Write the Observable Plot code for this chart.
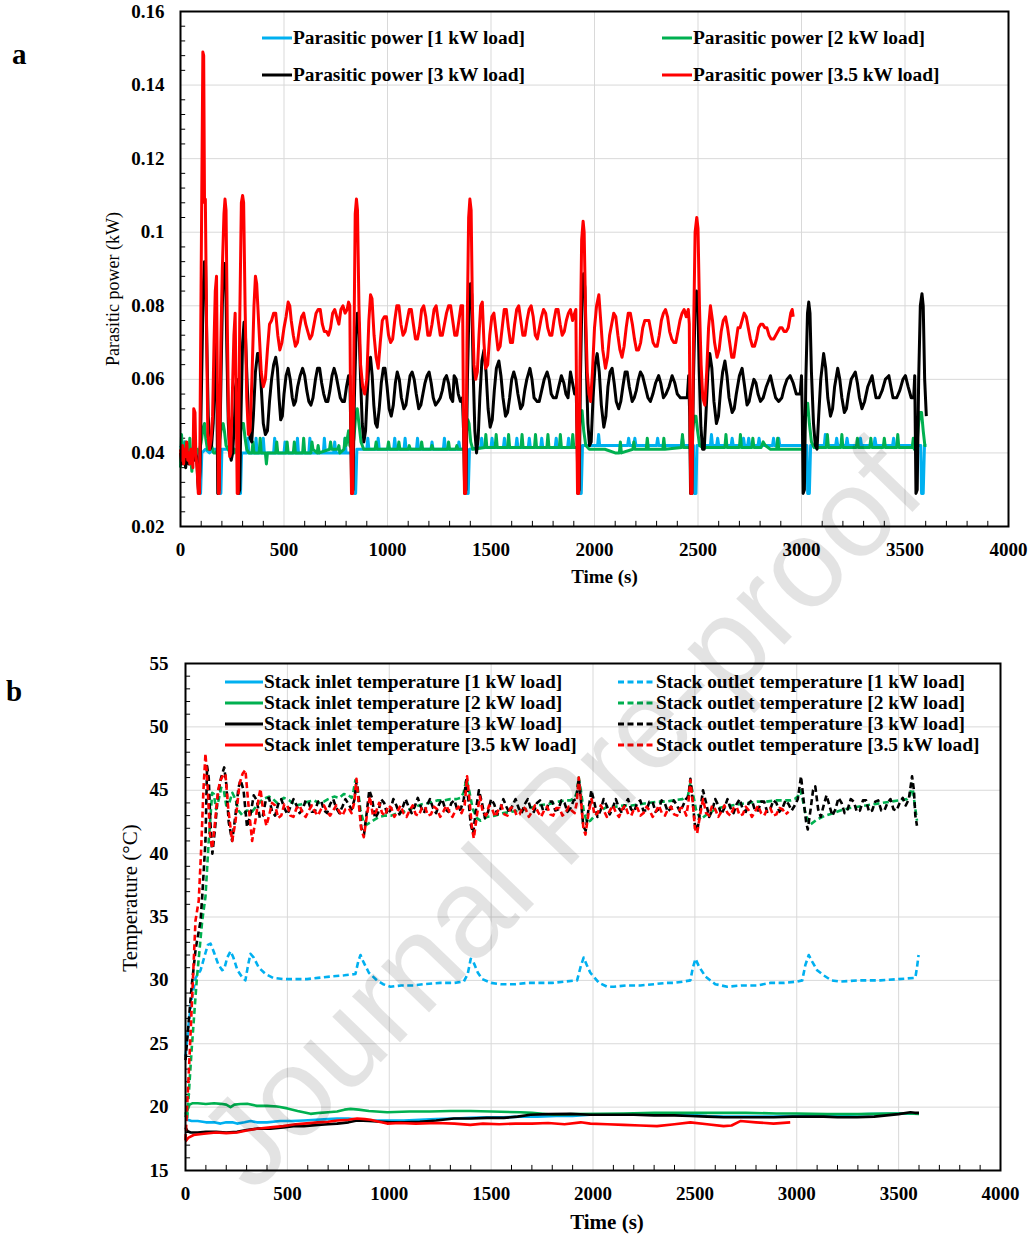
<!DOCTYPE html>
<html><head><meta charset="utf-8">
<script src="https://cdn.jsdelivr.net/npm/d3@7"></script>
<script src="https://cdn.jsdelivr.net/npm/@observablehq/plot@0.6"></script>
<style>
html,body{margin:0;padding:0;background:#fff;}
#root{position:relative;width:1029px;height:1236px;overflow:hidden;font-family:'Liberation Serif','Times New Roman',serif;}
.chart{position:absolute;left:0;}
.lab{position:absolute;font-size:29px;font-weight:bold;line-height:1;}
.leg{position:absolute;display:flex;align-items:center;height:20px;font-size:19.4px;font-weight:bold;white-space:nowrap;line-height:1;}
.leg svg{display:block;margin-right:1px;}
.wm{position:absolute;left:560px;top:815px;transform:translate(-50%,-50%) rotate(-46deg);font-family:'Liberation Sans',Arial,sans-serif;font-size:126px;color:rgba(0,0,0,0.11);white-space:nowrap;pointer-events:none;line-height:1;}
</style></head><body><div id="root"></div><script>
// ---------- axis ticks ----------
const timeTicks = [0, 500, 1000, 1500, 2000, 2500, 3000, 3500, 4000];
const timeMinor = [100,200,300,400,600,700,800,900,1100,1200,1300,1400,1600,1700,1800,1900,2100,2200,2300,2400,2600,2700,2800,2900,3100,3200,3300,3400,3600,3700,3800,3900];
const powerTicks = [0.02, 0.04, 0.06, 0.08, 0.1, 0.12, 0.14, 0.16];
const powerMinor = [0.024,0.028,0.032,0.036,0.044,0.048,0.052,0.056,0.064,0.068,0.072,0.076,0.084,0.088,0.092,0.096,0.104,0.108,0.112,0.116,0.124,0.128,0.132,0.136,0.144,0.148,0.152,0.156];
const tempTicks = [15, 20, 25, 30, 35, 40, 45, 50, 55];
const tempMinor = [16,17,18,19,21,22,23,24,26,27,28,29,31,32,33,34,36,37,38,39,41,42,43,44,46,47,48,49,51,52,53,54];

// ---------- labels ----------
const powerNames = ["Parasitic power [1 kW load]", "Parasitic power [2 kW load]", "Parasitic power [3 kW load]", "Parasitic power [3.5 kW load]"];
const inletNames = ["Stack inlet temperature [1 kW load]", "Stack inlet temperature [2 kW load]", "Stack inlet temperature [3 kW load]", "Stack inlet temperature [3.5 kW load]"];
const outletNames = ["Stack outlet temperature [1 kW load]", "Stack outlet temperature [2 kW load]", "Stack outlet temperature [3 kW load]", "Stack outlet temperature [3.5 kW load]"];
const colors = ["#00b0f0", "#00b050", "#000000", "#ff0000"];
const xTitle = "Time (s)";
const yTitleA = "Parasitic power (kW)";
const yTitleB = "Temperature (°C)";

// ---------- panel a: parasitic power [t (s), kW] ----------
const power1 = [[0,0.042],[10,0.041],[20,0.043],[30,0.040],[40,0.042],[50,0.041],[60,0.040],[70,0.041],[80,0.040],[88,0.040],[92,0.029],[97,0.029],[103,0.040],[120,0.041],[140,0.040],[160,0.041],[180,0.041],[186,0.040],[190,0.029],[195,0.029],[200,0.041],[230,0.041],[260,0.041],[280,0.040],[284,0.029],[290,0.029],[295,0.040],[320,0.040],[325,0.044],[330,0.040],[360,0.040],[365,0.044],[370,0.040],[395,0.040],[400,0.044],[405,0.040],[450,0.040],[455,0.044],[460,0.040],[500,0.040],[505,0.043],[510,0.040],[560,0.040],[565,0.044],[570,0.040],[620,0.040],[625,0.044],[630,0.040],[690,0.040],[695,0.044],[700,0.040],[740,0.040],[745,0.043],[750,0.040],[790,0.040],[795,0.044],[800,0.040],[836,0.040],[840,0.029],[846,0.029],[852,0.041],[900,0.041],[905,0.044],[910,0.041],[950,0.041],[955,0.044],[960,0.041],[1030,0.041],[1035,0.044],[1040,0.041],[1080,0.041],[1085,0.044],[1090,0.041],[1140,0.041],[1145,0.044],[1150,0.041],[1210,0.041],[1215,0.043],[1220,0.041],[1270,0.041],[1275,0.044],[1280,0.041],[1340,0.041],[1345,0.043],[1350,0.041],[1380,0.041],[1384,0.029],[1390,0.029],[1396,0.041],[1450,0.0415],[1455,0.044],[1460,0.0415],[1500,0.0415],[1505,0.044],[1510,0.0415],[1560,0.0415],[1565,0.044],[1570,0.0415],[1620,0.0415],[1625,0.044],[1630,0.0415],[1680,0.0415],[1685,0.044],[1690,0.0415],[1740,0.0415],[1745,0.044],[1750,0.0415],[1810,0.0415],[1815,0.044],[1820,0.0415],[1870,0.0415],[1875,0.044],[1880,0.0415],[1926,0.0415],[1930,0.029],[1936,0.029],[1942,0.042],[2015,0.042],[2020,0.045],[2025,0.042],[2160,0.042],[2165,0.044],[2170,0.042],[2190,0.042],[2195,0.044],[2200,0.042],[2300,0.042],[2305,0.044],[2310,0.042],[2420,0.042],[2425,0.044],[2430,0.042],[2478,0.042],[2482,0.029],[2490,0.029],[2495,0.042],[2560,0.042],[2565,0.045],[2570,0.042],[2590,0.042],[2595,0.044],[2600,0.042],[2660,0.042],[2665,0.044],[2670,0.042],[2715,0.042],[2720,0.044],[2725,0.042],[2740,0.042],[2745,0.044],[2750,0.042],[2790,0.042],[2795,0.044],[2800,0.042],[2860,0.042],[2865,0.044],[2870,0.042],[2885,0.042],[2890,0.044],[2895,0.042],[3026,0.042],[3030,0.029],[3038,0.029],[3044,0.042],[3110,0.042],[3115,0.045],[3120,0.042],[3165,0.042],[3170,0.044],[3175,0.042],[3215,0.042],[3220,0.044],[3225,0.042],[3280,0.042],[3285,0.044],[3290,0.042],[3350,0.042],[3355,0.044],[3360,0.042],[3440,0.042],[3445,0.044],[3450,0.042],[3576,0.042],[3580,0.029],[3588,0.029],[3594,0.042],[3603,0.042]];
const power2 = [[0,0.036],[5,0.045],[10,0.039],[15,0.041],[20,0.037],[25,0.043],[30,0.040],[35,0.042],[40,0.039],[45,0.044],[50,0.038],[55,0.035],[60,0.041],[70,0.039],[80,0.041],[90,0.040],[100,0.043],[110,0.047],[116,0.048],[122,0.044],[130,0.041],[140,0.041],[150,0.042],[160,0.040],[170,0.040],[180,0.041],[190,0.044],[198,0.047],[206,0.048],[212,0.046],[220,0.042],[230,0.041],[240,0.040],[250,0.042],[260,0.040],[270,0.041],[280,0.040],[288,0.045],[296,0.048],[304,0.048],[312,0.044],[320,0.041],[330,0.040],[345,0.040],[350,0.043],[355,0.040],[380,0.040],[385,0.044],[390,0.040],[410,0.040],[415,0.037],[420,0.040],[460,0.040],[465,0.043],[470,0.040],[510,0.040],[515,0.043],[520,0.040],[545,0.040],[550,0.043],[555,0.040],[590,0.040],[595,0.044],[600,0.040],[630,0.040],[635,0.043],[640,0.041],[660,0.040],[665,0.042],[670,0.040],[720,0.041],[725,0.043],[730,0.041],[760,0.041],[765,0.042],[770,0.040],[790,0.041],[795,0.044],[800,0.042],[812,0.046],[818,0.042],[830,0.041],[838,0.044],[846,0.050],[854,0.052],[862,0.048],[872,0.043],[885,0.041],[940,0.041],[945,0.043],[950,0.041],[1000,0.041],[1005,0.043],[1010,0.041],[1050,0.041],[1055,0.043],[1060,0.041],[1100,0.041],[1105,0.042],[1110,0.041],[1160,0.041],[1165,0.043],[1170,0.041],[1210,0.041],[1215,0.042],[1220,0.041],[1290,0.041],[1295,0.043],[1300,0.041],[1330,0.041],[1335,0.042],[1340,0.041],[1372,0.041],[1380,0.045],[1388,0.049],[1394,0.048],[1402,0.043],[1412,0.041],[1470,0.0415],[1475,0.045],[1480,0.0415],[1520,0.0415],[1525,0.045],[1530,0.0415],[1580,0.0415],[1585,0.045],[1590,0.0415],[1645,0.0415],[1650,0.045],[1655,0.0415],[1710,0.0415],[1715,0.045],[1720,0.0415],[1770,0.0415],[1775,0.045],[1780,0.0415],[1830,0.0415],[1835,0.045],[1840,0.0415],[1890,0.0415],[1895,0.045],[1900,0.0415],[1918,0.0415],[1926,0.046],[1934,0.051],[1940,0.0515],[1948,0.046],[1958,0.042],[1975,0.041],[2050,0.041],[2100,0.040],[2120,0.040],[2125,0.043],[2130,0.040],[2185,0.041],[2190,0.043],[2195,0.041],[2250,0.041],[2255,0.044],[2260,0.041],[2330,0.041],[2335,0.044],[2340,0.041],[2420,0.0415],[2425,0.045],[2430,0.0415],[2466,0.0415],[2474,0.046],[2482,0.050],[2490,0.050],[2498,0.046],[2508,0.042],[2520,0.0415],[2570,0.0415],[2630,0.0415],[2635,0.045],[2640,0.0415],[2700,0.0415],[2705,0.045],[2710,0.0415],[2760,0.0415],[2765,0.044],[2770,0.0415],[2805,0.0415],[2815,0.043],[2825,0.042],[2850,0.041],[2880,0.041],[2885,0.044],[2890,0.041],[3008,0.041],[3016,0.047],[3024,0.053],[3030,0.0535],[3038,0.048],[3048,0.043],[3060,0.0415],[3120,0.0415],[3125,0.045],[3130,0.0415],[3190,0.0415],[3195,0.045],[3200,0.0415],[3265,0.0415],[3270,0.044],[3275,0.0415],[3330,0.0415],[3335,0.044],[3340,0.0415],[3395,0.0415],[3400,0.044],[3405,0.0415],[3460,0.0415],[3465,0.045],[3470,0.0415],[3535,0.0415],[3540,0.044],[3545,0.041],[3556,0.041],[3564,0.047],[3572,0.051],[3580,0.051],[3588,0.046],[3596,0.042],[3603,0.042]];
const power3 = [[0,0.040],[5,0.037],[10,0.039],[15,0.041],[20,0.038],[25,0.036],[30,0.039],[35,0.040],[40,0.037],[45,0.039],[50,0.038],[55,0.040],[60,0.039],[66,0.038],[72,0.040],[78,0.039],[84,0.032],[88,0.029],[94,0.035],[102,0.060],[110,0.085],[116,0.092],[121,0.091],[127,0.070],[134,0.050],[142,0.041],[150,0.042],[158,0.048],[165,0.060],[170,0.070],[176,0.055],[180,0.029],[186,0.030],[194,0.055],[202,0.080],[208,0.090],[213,0.0915],[218,0.089],[224,0.068],[231,0.048],[238,0.040],[245,0.038],[252,0.040],[260,0.048],[266,0.058],[272,0.060],[277,0.045],[281,0.029],[286,0.030],[292,0.050],[300,0.070],[307,0.0755],[313,0.073],[320,0.062],[328,0.050],[336,0.044],[344,0.043],[352,0.050],[362,0.062],[372,0.067],[380,0.067],[390,0.058],[400,0.048],[410,0.045],[420,0.046],[430,0.054],[440,0.060],[450,0.064],[460,0.066],[468,0.063],[476,0.055],[484,0.049],[492,0.050],[500,0.056],[510,0.061],[520,0.063],[530,0.060],[540,0.055],[548,0.053],[556,0.054],[566,0.058],[578,0.061],[590,0.063],[600,0.061],[610,0.057],[620,0.054],[630,0.053],[640,0.055],[652,0.060],[662,0.063],[672,0.063],[682,0.059],[692,0.056],[702,0.054],[712,0.054],[722,0.057],[732,0.061],[742,0.063],[752,0.061],[762,0.058],[772,0.055],[782,0.054],[792,0.054],[802,0.058],[812,0.061],[818,0.061],[823,0.045],[827,0.029],[833,0.030],[840,0.055],[848,0.072],[855,0.078],[862,0.075],[870,0.060],[878,0.048],[886,0.043],[894,0.046],[902,0.056],[910,0.064],[918,0.066],[926,0.061],[934,0.053],[942,0.048],[950,0.047],[960,0.052],[970,0.059],[980,0.063],[988,0.063],[998,0.058],[1008,0.052],[1018,0.050],[1028,0.053],[1038,0.059],[1047,0.062],[1057,0.060],[1067,0.055],[1079,0.052],[1089,0.053],[1099,0.057],[1109,0.061],[1119,0.062],[1129,0.060],[1139,0.056],[1151,0.052],[1161,0.053],[1171,0.056],[1181,0.059],[1191,0.061],[1201,0.062],[1211,0.059],[1221,0.055],[1232,0.053],[1245,0.054],[1255,0.055],[1265,0.057],[1275,0.060],[1285,0.061],[1295,0.059],[1305,0.055],[1315,0.054],[1322,0.061],[1332,0.060],[1342,0.056],[1352,0.054],[1362,0.055],[1368,0.045],[1373,0.029],[1379,0.030],[1386,0.060],[1394,0.080],[1401,0.086],[1407,0.083],[1414,0.062],[1422,0.046],[1430,0.040],[1438,0.044],[1446,0.055],[1456,0.065],[1466,0.068],[1476,0.062],[1486,0.052],[1496,0.047],[1506,0.049],[1516,0.057],[1526,0.063],[1538,0.065],[1548,0.061],[1558,0.055],[1570,0.050],[1580,0.051],[1590,0.055],[1600,0.060],[1610,0.062],[1620,0.060],[1630,0.056],[1643,0.052],[1653,0.053],[1663,0.057],[1673,0.060],[1688,0.063],[1698,0.060],[1708,0.055],[1723,0.054],[1733,0.054],[1745,0.057],[1757,0.060],[1771,0.062],[1781,0.060],[1791,0.056],[1801,0.055],[1815,0.055],[1827,0.058],[1840,0.061],[1852,0.059],[1862,0.056],[1872,0.055],[1884,0.062],[1894,0.059],[1904,0.056],[1912,0.056],[1916,0.045],[1920,0.029],[1926,0.030],[1932,0.060],[1940,0.084],[1947,0.0887],[1953,0.085],[1960,0.065],[1968,0.048],[1976,0.042],[1984,0.043],[1993,0.055],[2003,0.064],[2013,0.067],[2023,0.062],[2033,0.053],[2045,0.047],[2055,0.050],[2065,0.058],[2075,0.062],[2085,0.063],[2095,0.059],[2105,0.054],[2117,0.052],[2127,0.054],[2137,0.058],[2148,0.062],[2158,0.062],[2168,0.058],[2182,0.054],[2192,0.055],[2202,0.057],[2212,0.060],[2222,0.062],[2232,0.061],[2245,0.058],[2258,0.055],[2270,0.054],[2282,0.056],[2295,0.059],[2310,0.061],[2320,0.059],[2333,0.055],[2345,0.056],[2360,0.058],[2375,0.061],[2388,0.059],[2400,0.056],[2415,0.055],[2430,0.055],[2448,0.055],[2455,0.061],[2460,0.050],[2464,0.029],[2470,0.029],[2478,0.060],[2486,0.080],[2493,0.084],[2499,0.081],[2506,0.062],[2514,0.047],[2522,0.041],[2530,0.041],[2538,0.050],[2548,0.062],[2557,0.067],[2567,0.063],[2577,0.054],[2589,0.048],[2599,0.050],[2609,0.057],[2619,0.062],[2630,0.065],[2640,0.061],[2650,0.055],[2665,0.051],[2675,0.052],[2685,0.056],[2700,0.061],[2713,0.063],[2723,0.059],[2737,0.053],[2747,0.054],[2757,0.057],[2770,0.060],[2780,0.059],[2790,0.056],[2802,0.054],[2815,0.055],[2830,0.058],[2850,0.061],[2862,0.058],[2875,0.055],[2890,0.054],[2905,0.055],[2918,0.058],[2930,0.060],[2945,0.061],[2960,0.059],[2975,0.056],[2994,0.056],[3000,0.061],[3004,0.050],[3008,0.029],[3014,0.030],[3021,0.060],[3029,0.078],[3035,0.081],[3041,0.078],[3048,0.062],[3058,0.048],[3067,0.042],[3075,0.041],[3083,0.050],[3093,0.060],[3107,0.067],[3117,0.063],[3127,0.055],[3140,0.050],[3150,0.052],[3160,0.058],[3175,0.063],[3185,0.060],[3195,0.055],[3207,0.051],[3217,0.052],[3227,0.056],[3240,0.060],[3260,0.062],[3270,0.059],[3280,0.055],[3292,0.052],[3305,0.054],[3320,0.058],[3341,0.061],[3350,0.058],[3360,0.055],[3375,0.055],[3390,0.057],[3405,0.060],[3422,0.061],[3432,0.058],[3442,0.055],[3460,0.055],[3475,0.057],[3490,0.060],[3502,0.061],[3515,0.058],[3530,0.055],[3542,0.055],[3547,0.061],[3550,0.045],[3553,0.029],[3559,0.030],[3566,0.060],[3574,0.080],[3582,0.0833],[3588,0.080],[3595,0.060],[3603,0.050]];
const power35 = [[0,0.041],[5,0.038],[10,0.042],[15,0.037],[20,0.041],[25,0.039],[30,0.043],[35,0.038],[40,0.040],[45,0.037],[50,0.041],[55,0.039],[60,0.036],[64,0.052],[70,0.051],[74,0.040],[80,0.036],[86,0.029],[92,0.029],[100,0.090],[108,0.149],[112,0.148],[116,0.108],[120,0.109],[126,0.075],[132,0.045],[140,0.041],[148,0.044],[155,0.050],[162,0.070],[168,0.084],[174,0.088],[178,0.060],[183,0.029],[187,0.029],[195,0.070],[202,0.090],[210,0.105],[215,0.109],[220,0.106],[226,0.075],[232,0.050],[238,0.039],[243,0.040],[250,0.055],[258,0.072],[264,0.078],[270,0.050],[274,0.029],[279,0.029],[286,0.075],[294,0.108],[300,0.110],[305,0.108],[312,0.080],[320,0.055],[328,0.045],[336,0.046],[345,0.060],[355,0.080],[362,0.088],[368,0.086],[378,0.075],[390,0.062],[400,0.058],[410,0.060],[420,0.068],[430,0.075],[440,0.076],[450,0.078],[460,0.078],[470,0.072],[480,0.068],[490,0.070],[500,0.074],[510,0.077],[520,0.081],[528,0.080],[535,0.076],[545,0.072],[555,0.069],[565,0.070],[575,0.074],[585,0.077],[595,0.078],[605,0.075],[615,0.073],[625,0.071],[635,0.072],[645,0.075],[655,0.078],[665,0.079],[675,0.079],[685,0.075],[695,0.073],[705,0.073],[715,0.072],[725,0.074],[735,0.078],[745,0.079],[755,0.077],[765,0.075],[775,0.079],[785,0.080],[795,0.078],[805,0.079],[812,0.081],[818,0.080],[822,0.050],[826,0.029],[832,0.029],[838,0.070],[844,0.105],[850,0.109],[855,0.106],[862,0.080],[870,0.064],[880,0.058],[890,0.056],[900,0.060],[910,0.076],[918,0.083],[925,0.082],[935,0.072],[945,0.066],[955,0.063],[965,0.070],[975,0.076],[985,0.077],[995,0.077],[1005,0.072],[1015,0.070],[1025,0.071],[1035,0.076],[1045,0.080],[1055,0.080],[1065,0.075],[1075,0.072],[1085,0.073],[1095,0.076],[1105,0.079],[1115,0.079],[1125,0.075],[1135,0.071],[1145,0.071],[1155,0.074],[1165,0.079],[1175,0.080],[1185,0.077],[1195,0.072],[1205,0.072],[1215,0.075],[1225,0.079],[1235,0.080],[1245,0.076],[1255,0.072],[1265,0.072],[1275,0.075],[1285,0.078],[1295,0.080],[1305,0.080],[1315,0.076],[1325,0.072],[1335,0.072],[1345,0.076],[1355,0.080],[1363,0.080],[1367,0.050],[1372,0.029],[1378,0.029],[1384,0.070],[1392,0.104],[1398,0.109],[1404,0.106],[1410,0.080],[1418,0.064],[1426,0.060],[1434,0.062],[1442,0.072],[1450,0.080],[1458,0.081],[1466,0.070],[1474,0.063],[1484,0.064],[1494,0.072],[1504,0.077],[1514,0.078],[1524,0.073],[1534,0.068],[1544,0.069],[1554,0.074],[1564,0.079],[1574,0.079],[1584,0.074],[1594,0.070],[1604,0.070],[1614,0.075],[1624,0.079],[1634,0.080],[1644,0.076],[1654,0.072],[1664,0.072],[1674,0.076],[1684,0.079],[1694,0.080],[1704,0.077],[1714,0.072],[1724,0.071],[1734,0.074],[1744,0.077],[1754,0.079],[1764,0.078],[1774,0.074],[1784,0.072],[1794,0.072],[1804,0.076],[1814,0.079],[1824,0.079],[1834,0.075],[1844,0.072],[1854,0.073],[1864,0.076],[1874,0.078],[1884,0.079],[1894,0.076],[1904,0.078],[1910,0.079],[1914,0.050],[1918,0.029],[1924,0.029],[1930,0.065],[1938,0.098],[1945,0.103],[1950,0.100],[1957,0.078],[1965,0.062],[1973,0.056],[1981,0.054],[1990,0.062],[2000,0.074],[2010,0.080],[2021,0.083],[2030,0.076],[2040,0.068],[2053,0.063],[2063,0.066],[2073,0.072],[2083,0.075],[2093,0.078],[2103,0.077],[2113,0.072],[2123,0.068],[2133,0.066],[2143,0.069],[2153,0.074],[2163,0.078],[2173,0.078],[2183,0.075],[2193,0.071],[2203,0.068],[2213,0.068],[2223,0.070],[2233,0.074],[2243,0.076],[2253,0.076],[2263,0.076],[2273,0.073],[2283,0.070],[2293,0.069],[2303,0.069],[2313,0.072],[2323,0.076],[2333,0.078],[2343,0.079],[2353,0.077],[2363,0.073],[2373,0.071],[2383,0.070],[2393,0.070],[2403,0.073],[2413,0.076],[2423,0.078],[2433,0.079],[2443,0.077],[2453,0.079],[2458,0.075],[2462,0.045],[2465,0.029],[2471,0.029],[2478,0.070],[2486,0.100],[2494,0.104],[2500,0.101],[2507,0.080],[2515,0.064],[2523,0.055],[2533,0.053],[2542,0.062],[2551,0.074],[2560,0.080],[2570,0.076],[2580,0.070],[2592,0.066],[2602,0.068],[2612,0.073],[2622,0.076],[2633,0.077],[2643,0.074],[2653,0.070],[2663,0.066],[2673,0.066],[2683,0.070],[2693,0.074],[2703,0.074],[2713,0.076],[2723,0.078],[2733,0.077],[2743,0.074],[2753,0.071],[2763,0.069],[2773,0.069],[2783,0.071],[2793,0.074],[2803,0.075],[2813,0.075],[2823,0.074],[2833,0.074],[2843,0.072],[2853,0.071],[2866,0.071],[2876,0.072],[2886,0.073],[2896,0.074],[2906,0.074],[2916,0.073],[2926,0.073],[2936,0.074],[2942,0.076],[2948,0.078],[2955,0.079],[2960,0.077]];

// ---------- panel b: temperatures [t (s), °C] ----------
const inlet1 = [[0,19.0],[10,19.0],[30,18.9],[60,18.9],[100,18.8],[140,18.8],[172,18.7],[200,18.8],[230,18.8],[253,18.7],[290,18.8],[319,18.9],[350,18.8],[400,18.8],[466,18.9],[520,18.9],[581,18.95],[640,19.0],[700,19.05],[744,19.1],[800,19.1],[860,19.0],[920,18.95],[1000,18.95],[1071,18.95],[1150,19.0],[1230,19.05],[1320,19.1],[1398,19.15],[1480,19.2],[1560,19.2],[1640,19.25],[1726,19.25],[1820,19.3],[1900,19.3],[1987,19.4],[2100,19.4],[2200,19.4],[2300,19.4],[2400,19.4],[2478,19.4],[2560,19.3],[2641,19.25],[2760,19.25],[2886,19.25],[2980,19.3],[3060,19.35],[3132,19.35],[3250,19.4],[3350,19.45],[3459,19.47],[3530,19.5],[3600,19.5]];
const inlet2 = [[0,19.2],[10,19.8],[20,20.2],[33,20.3],[60,20.3],[100,20.25],[140,20.3],[172,20.26],[200,20.2],[221,20.0],[240,20.2],[270,20.25],[303,20.26],[350,20.1],[400,20.1],[450,20.05],[500,19.9],[550,19.7],[614,19.47],[660,19.55],[700,19.6],[744,19.65],[780,19.8],[810,19.86],[850,19.8],[900,19.7],[990,19.6],[1100,19.65],[1200,19.65],[1300,19.7],[1398,19.7],[1500,19.65],[1644,19.6],[1700,19.55],[1807,19.4],[1900,19.45],[2036,19.47],[2150,19.5],[2300,19.55],[2450,19.55],[2600,19.55],[2750,19.55],[2900,19.5],[3000,19.5],[3150,19.45],[3300,19.45],[3450,19.5],[3550,19.5],[3600,19.47]];
const inlet3 = [[0,18.4],[10,18.1],[25,18.0],[60,18.0],[100,18.05],[150,18.05],[200,18.0],[253,18.05],[300,18.2],[350,18.3],[417,18.3],[480,18.4],[530,18.5],[581,18.5],[650,18.6],[700,18.65],[744,18.7],[800,18.8],[842,18.95],[900,18.9],[960,18.85],[1010,18.8],[1071,18.8],[1150,18.85],[1230,18.95],[1317,19.1],[1400,19.1],[1480,19.15],[1562,19.15],[1630,19.25],[1693,19.4],[1780,19.45],[1889,19.47],[1987,19.4],[2100,19.4],[2200,19.4],[2300,19.35],[2400,19.35],[2478,19.3],[2560,19.25],[2641,19.2],[2750,19.2],[2886,19.2],[2980,19.25],[3060,19.25],[3132,19.25],[3200,19.2],[3296,19.2],[3380,19.25],[3440,19.35],[3500,19.45],[3558,19.6],[3580,19.55],[3600,19.55]];
const inlet35 = [[0,17.3],[15,17.6],[40,17.8],[90,17.9],[150,18.0],[200,17.95],[253,18.0],[300,18.15],[350,18.3],[417,18.4],[480,18.5],[540,18.65],[581,18.7],[650,18.8],[700,18.85],[744,18.95],[800,19.0],[842,19.1],[880,19.05],[908,19.0],[950,18.85],[990,18.7],[1050,18.75],[1130,18.7],[1235,18.75],[1320,18.7],[1398,18.6],[1460,18.7],[1540,18.65],[1620,18.7],[1700,18.7],[1780,18.75],[1860,18.65],[1940,18.8],[1987,18.7],[2070,18.65],[2150,18.6],[2233,18.55],[2314,18.5],[2400,18.65],[2478,18.8],[2560,18.65],[2641,18.5],[2680,18.55],[2723,18.9],[2800,18.8],[2886,18.7],[2968,18.8]];
const outlet1 = [[0,24.0],[15,26.5],[30,28.5],[50,30.2],[74,30.8],[95,32.0],[110,32.8],[123,32.9],[140,32.2],[160,31.3],[180,30.8],[190,30.9],[205,31.8],[221,32.3],[235,31.8],[255,30.8],[280,30.2],[294,30.0],[307,31.2],[319,32.1],[335,31.8],[360,31.0],[393,30.5],[430,30.2],[483,30.1],[540,30.1],[597,30.1],[650,30.2],[711,30.3],[780,30.4],[834,30.5],[848,31.5],[859,32.0],[872,31.5],[900,30.6],[940,30.0],[970,29.7],[1006,29.5],[1060,29.6],[1120,29.6],[1170,29.7],[1250,29.8],[1320,29.8],[1366,29.9],[1385,30.5],[1400,31.7],[1412,31.5],[1435,30.6],[1456,30.1],[1500,29.8],[1546,29.7],[1620,29.7],[1680,29.8],[1726,29.8],[1800,29.8],[1860,29.9],[1922,30.0],[1938,31.0],[1954,31.8],[1970,31.2],[1987,30.6],[2030,29.8],[2070,29.5],[2102,29.5],[2160,29.6],[2233,29.6],[2300,29.7],[2360,29.8],[2396,29.8],[2440,29.9],[2478,30.0],[2490,31.0],[2503,31.7],[2520,31.1],[2552,30.3],[2600,29.7],[2659,29.5],[2730,29.6],[2806,29.6],[2870,29.8],[2937,29.8],[3000,29.9],[3027,30.0],[3042,31.2],[3059,32.0],[3075,31.5],[3100,30.8],[3132,30.4],[3170,30.0],[3214,29.9],[3300,30.0],[3410,30.0],[3500,30.1],[3582,30.2],[3590,31.0],[3598,32.0]];
const outlet2 = [[0,19.6],[8,19.0],[30,24.5],[55,30.0],[82,34.7],[98,36.6],[114,41.0],[131,44.8],[139,44.7],[150,43.5],[162,44.2],[175,45.2],[188,45.0],[200,43.8],[215,44.0],[230,44.8],[245,44.3],[260,43.4],[280,43.0],[300,43.4],[327,43.3],[350,43.8],[380,44.3],[410,44.5],[430,44.3],[450,44.0],[483,44.4],[510,44.2],[540,43.8],[570,43.9],[600,44.1],[630,44.2],[655,44.0],[679,44.1],[700,44.3],[730,44.5],[755,44.4],[777,44.7],[800,44.6],[815,44.4],[825,45.0],[834,45.8],[845,45.2],[858,43.5],[875,42.4],[891,42.3],[920,42.6],[950,42.9],[980,43.0],[1010,43.0],[1040,43.2],[1071,43.3],[1100,43.5],[1130,43.7],[1160,43.9],[1195,44.0],[1235,44.2],[1270,44.2],[1300,44.3],[1330,44.3],[1350,44.4],[1365,44.8],[1379,45.9],[1392,45.0],[1410,43.5],[1430,42.8],[1448,42.6],[1480,42.9],[1520,43.0],[1560,43.2],[1600,43.3],[1644,43.4],[1690,43.6],[1730,43.8],[1780,43.9],[1830,44.1],[1870,44.2],[1889,44.2],[1910,44.4],[1920,44.8],[1930,46.0],[1942,44.8],[1955,43.3],[1970,42.5],[1987,42.6],[2020,43.2],[2069,43.7],[2110,43.7],[2150,43.8],[2190,43.8],[2232,43.9],[2270,44.0],[2320,44.1],[2360,44.1],[2396,44.2],[2440,44.3],[2465,44.5],[2478,45.6],[2490,44.8],[2505,43.5],[2527,42.7],[2560,43.1],[2600,43.5],[2641,43.7],[2680,43.8],[2720,43.9],[2760,44.0],[2805,44.1],[2850,44.1],[2900,44.2],[2940,44.2],[2969,44.2],[2990,44.3],[3005,44.5],[3017,45.0],[3030,44.2],[3045,43.0],[3067,42.3],[3100,42.7],[3140,43.0],[3180,43.2],[3214,43.4],[3260,43.6],[3300,43.7],[3340,43.8],[3378,43.9],[3420,44.0],[3460,44.1],[3500,44.2],[3541,44.3],[3556,44.6],[3566,45.5],[3578,44.0],[3590,42.6]];
const outlet3 = [[0,23.7],[30,29.5],[50,32.5],[74,34.7],[82,36.6],[98,41.0],[106,46.9],[114,46.0],[122,42.5],[132,40.0],[145,42.0],[160,44.8],[175,46.0],[190,46.8],[200,45.5],[212,42.5],[229,41.0],[245,43.0],[260,45.2],[270,45.8],[285,45.0],[302,42.1],[318,43.0],[335,44.6],[350,44.2],[365,42.8],[380,43.0],[395,44.3],[410,44.4],[425,43.3],[440,43.0],[455,43.9],[470,44.3],[485,43.6],[500,43.1],[515,43.7],[530,44.3],[545,43.8],[560,43.2],[575,43.5],[590,44.2],[605,44.0],[620,43.3],[635,43.3],[650,44.1],[665,44.2],[680,43.4],[695,43.2],[710,43.9],[725,44.3],[740,43.6],[755,43.2],[770,43.7],[785,44.3],[800,43.9],[815,43.5],[828,44.2],[840,45.7],[852,44.0],[863,42.0],[876,41.5],[890,43.3],[902,45.0],[915,44.4],[930,42.8],[945,43.2],[960,44.3],[975,44.0],[990,43.1],[1005,43.4],[1020,44.3],[1035,43.8],[1050,43.1],[1065,43.6],[1080,44.3],[1095,43.7],[1110,43.2],[1125,43.7],[1140,44.4],[1155,43.7],[1170,43.2],[1185,43.8],[1200,44.3],[1215,43.6],[1230,43.2],[1245,43.9],[1260,44.3],[1275,43.5],[1290,43.3],[1305,44.0],[1320,44.2],[1335,43.4],[1350,43.5],[1365,44.2],[1378,45.8],[1390,44.0],[1400,42.3],[1412,41.6],[1426,43.5],[1440,45.0],[1455,44.0],[1470,42.8],[1485,43.3],[1500,44.3],[1515,43.9],[1530,43.1],[1545,43.5],[1560,44.3],[1575,43.7],[1590,43.2],[1605,43.8],[1620,44.3],[1635,43.6],[1650,43.2],[1665,43.9],[1680,44.3],[1695,43.5],[1710,43.3],[1725,44.0],[1740,44.2],[1755,43.4],[1770,43.4],[1785,44.1],[1800,44.1],[1815,43.4],[1830,43.5],[1845,44.2],[1860,44.0],[1875,43.3],[1890,43.6],[1905,44.2],[1918,44.3],[1930,45.9],[1942,44.0],[1952,42.2],[1964,41.8],[1978,43.5],[1992,45.0],[2007,44.0],[2022,42.9],[2037,43.4],[2052,44.3],[2067,43.8],[2082,43.1],[2097,43.6],[2112,44.3],[2127,43.6],[2142,43.2],[2157,43.9],[2172,44.3],[2187,43.5],[2202,43.3],[2217,44.0],[2232,44.2],[2247,43.4],[2262,43.4],[2277,44.1],[2292,44.1],[2307,43.3],[2322,43.5],[2337,44.2],[2352,44.0],[2367,43.3],[2382,43.6],[2397,44.2],[2412,43.8],[2427,43.3],[2442,43.8],[2456,44.3],[2468,44.5],[2478,45.9],[2490,44.0],[2500,42.3],[2512,41.8],[2526,43.4],[2540,45.0],[2555,44.0],[2570,42.9],[2585,43.4],[2600,44.3],[2615,43.8],[2630,43.1],[2645,43.6],[2660,44.3],[2675,43.6],[2690,43.2],[2705,43.9],[2720,44.3],[2735,43.5],[2750,43.3],[2765,44.0],[2780,44.2],[2795,43.4],[2810,43.4],[2825,44.1],[2840,44.1],[2855,43.3],[2870,43.5],[2885,44.2],[2900,44.0],[2915,43.3],[2930,43.6],[2945,44.2],[2960,43.9],[2975,43.4],[2990,43.8],[3005,44.3],[3021,46.1],[3035,44.0],[3046,42.5],[3054,41.9],[3068,43.5],[3080,45.0],[3091,45.3],[3105,43.5],[3118,42.9],[3132,43.8],[3146,44.6],[3160,43.8],[3175,43.0],[3190,43.5],[3205,44.4],[3220,44.0],[3235,43.2],[3250,43.5],[3265,44.3],[3280,44.1],[3295,43.3],[3310,43.4],[3325,44.2],[3340,44.2],[3355,43.3],[3370,43.4],[3385,44.1],[3400,44.2],[3415,43.4],[3430,43.4],[3445,44.0],[3460,44.3],[3475,43.5],[3490,43.4],[3505,44.0],[3520,44.4],[3535,43.8],[3550,44.3],[3566,46.1],[3575,45.0],[3582,43.0],[3590,42.2]];
const outlet35 = [[0,17.4],[20,24.0],[49,34.7],[65,36.3],[76,40.0],[88,45.0],[98,47.9],[108,45.5],[120,41.5],[131,40.4],[145,42.5],[160,45.0],[172,45.8],[185,46.2],[196,46.3],[210,43.5],[229,41.0],[245,42.5],[265,45.5],[280,46.3],[294,46.6],[308,44.0],[327,41.0],[345,42.8],[360,44.5],[368,45.1],[380,43.5],[397,42.2],[410,43.0],[425,44.0],[440,43.8],[455,42.8],[470,43.0],[485,43.9],[500,43.8],[515,43.0],[530,42.9],[545,43.6],[560,43.8],[575,43.2],[590,42.9],[605,43.4],[620,43.8],[635,43.3],[650,43.0],[665,43.5],[680,43.8],[695,43.3],[710,43.0],[725,43.4],[740,43.8],[755,43.3],[770,43.0],[785,43.5],[800,43.6],[815,43.2],[828,44.0],[839,45.9],[850,44.0],[862,42.0],[875,41.3],[890,43.0],[905,44.5],[920,43.0],[935,43.3],[950,44.0],[965,43.2],[980,43.0],[995,43.8],[1010,43.6],[1025,42.9],[1040,43.3],[1055,43.8],[1070,43.2],[1085,42.9],[1100,43.4],[1115,43.8],[1130,43.1],[1145,43.0],[1160,43.6],[1175,43.7],[1190,43.0],[1205,43.1],[1220,43.7],[1235,43.5],[1250,42.9],[1265,43.3],[1280,43.8],[1295,43.3],[1310,42.9],[1325,43.4],[1340,43.7],[1355,43.2],[1370,43.8],[1382,46.1],[1395,44.0],[1406,42.0],[1415,41.2],[1430,43.0],[1445,44.5],[1460,43.2],[1475,43.0],[1490,43.8],[1505,43.5],[1520,42.9],[1535,43.4],[1550,43.8],[1565,43.1],[1580,43.0],[1595,43.6],[1610,43.7],[1625,43.0],[1640,43.1],[1655,43.7],[1670,43.5],[1685,42.9],[1700,43.3],[1715,43.8],[1730,43.3],[1745,42.9],[1760,43.4],[1775,43.7],[1790,43.1],[1805,43.0],[1820,43.6],[1835,43.6],[1850,43.0],[1865,43.2],[1880,43.7],[1895,43.4],[1910,43.2],[1920,44.0],[1930,46.0],[1942,44.0],[1953,42.0],[1963,41.5],[1978,43.2],[1993,44.3],[2008,43.0],[2023,43.2],[2038,43.8],[2053,43.4],[2068,42.9],[2083,43.4],[2098,43.8],[2113,43.2],[2128,42.9],[2143,43.5],[2158,43.8],[2173,43.1],[2188,43.0],[2203,43.6],[2218,43.6],[2233,43.0],[2248,43.2],[2263,43.7],[2278,43.4],[2293,42.9],[2308,43.3],[2323,43.8],[2338,43.2],[2353,43.0],[2368,43.5],[2383,43.7],[2398,43.1],[2413,43.0],[2428,43.6],[2443,43.6],[2458,43.0],[2468,44.0],[2478,45.8],[2490,44.0],[2500,42.0],[2511,41.6],[2525,43.0],[2540,44.3],[2555,43.2],[2570,43.0],[2585,43.8],[2600,43.5],[2615,42.9],[2630,43.3],[2645,43.8],[2660,43.2],[2675,43.0],[2690,43.6],[2705,43.7],[2720,43.0],[2735,43.1],[2750,43.7],[2765,43.4],[2780,42.9],[2795,43.3],[2810,43.8],[2825,43.2],[2840,43.0],[2855,43.5],[2870,43.6],[2885,43.0],[2900,43.1],[2915,43.6],[2930,43.5],[2945,43.1],[2960,43.3]];

// ---------- drawing ----------
const SERIF = "'Liberation Serif','Times New Roman',serif";
const root = document.getElementById("root");
const baseStyle = {fontFamily: SERIF, fontSize: "19px", fontWeight: "bold", background: "transparent", overflow: "visible", color: "black"};
const line = (data, color, width, dash) => Plot.line(data, {x: d => d[0], y: d => d[1], stroke: color, strokeWidth: width, strokeDasharray: dash, strokeLinejoin: "round", strokeLinecap: "butt"});
const grid = {stroke: "#d9d9d9", strokeOpacity: 1, strokeWidth: 1};

const chartA = Plot.plot({
  width: 1029, height: 600,
  marginTop: 11, marginLeft: 180, marginRight: 21, marginBottom: 74,
  x: {domain: [0, 4000]}, y: {domain: [0.02, 0.16]},
  style: baseStyle,
  marks: [
    Plot.gridX(timeTicks, grid),
    Plot.gridY(powerTicks, grid),
    Plot.ruleX(timeMinor, {x: d => d, y1: 0.02, y2: 0.0214, stroke: "black", strokeWidth: 1}),
    Plot.ruleY(powerMinor, {y: d => d, x1: 0, x2: 25, stroke: "black", strokeWidth: 1}),
    line(power1, colors[0], 3),
    line(power2, colors[1], 3),
    line(power3, colors[2], 3),
    line(power35, colors[3], 3),
    Plot.axisX(timeTicks, {tickSize: 0, tickPadding: 16, tickFormat: d => String(d), label: null, fontSize: 19}),
    Plot.axisY(powerTicks, {tickSize: 0, tickPadding: 16, tickFormat: d => String(+d.toFixed(2)), label: null, fontSize: 19}),
    Plot.text([xTitle], {text: d => d, frameAnchor: "bottom", dy: 56, dx: 10, fontSize: 19, fontWeight: "bold"}),
    Plot.text([yTitleA], {text: d => d, frameAnchor: "left", textAnchor: "middle", rotate: -90, dx: -67, dy: 20, fontSize: 18, fontWeight: "normal"}),
    Plot.frame({stroke: "black", strokeWidth: 2})
  ]
});
chartA.classList.add("chart");
chartA.style.top = "0px";
root.appendChild(chartA);

const chartB = Plot.plot({
  width: 1029, height: 636,
  marginTop: 63, marginLeft: 185, marginRight: 29, marginBottom: 66,
  x: {domain: [0, 4000]}, y: {domain: [15, 55]},
  style: baseStyle,
  marks: [
    Plot.gridX(timeTicks, grid),
    Plot.gridY(tempTicks, grid),
    Plot.ruleX(timeMinor, {x: d => d, y1: 15, y2: 15.4, stroke: "black", strokeWidth: 1}),
    Plot.ruleY(tempMinor, {y: d => d, x1: 0, x2: 25, stroke: "black", strokeWidth: 1}),
    line(inlet1, colors[0], 2.6),
    line(inlet2, colors[1], 2.6),
    line(inlet3, colors[2], 2.6),
    line(inlet35, colors[3], 2.6),
    line(outlet1, colors[0], 2.6, "6,3.5"),
    line(outlet2, colors[1], 2.6, "6,3.5"),
    line(outlet3, colors[2], 2.6, "6,3.5"),
    line(outlet35, colors[3], 2.6, "6,3.5"),
    Plot.axisX(timeTicks, {tickSize: 0, tickPadding: 16, tickFormat: d => String(d), label: null, fontSize: 19}),
    Plot.axisY(tempTicks, {tickSize: 0, tickPadding: 17, tickFormat: d => String(d), label: null, fontSize: 19}),
    Plot.text([xTitle], {text: d => d, frameAnchor: "bottom", dy: 58, dx: 14, fontSize: 21, fontWeight: "bold"}),
    Plot.text([yTitleB], {text: d => d, frameAnchor: "left", textAnchor: "middle", rotate: -90, dx: -55, dy: -19, fontSize: 21, fontWeight: "normal"}),
    Plot.frame({stroke: "black", strokeWidth: 2})
  ]
});
chartB.classList.add("chart");
chartB.style.top = "600px";
root.appendChild(chartB);

// ---------- legends (HTML overlay) ----------
function legendItem(left, cy, swatchW, color, dash, label) {
  const div = document.createElement("div");
  div.className = "leg";
  div.style.left = left + "px";
  div.style.top = (cy - 10) + "px";
  const ns = "http://www.w3.org/2000/svg";
  const s = document.createElementNS(ns, "svg");
  s.setAttribute("width", swatchW); s.setAttribute("height", 20);
  const l = document.createElementNS(ns, "line");
  l.setAttribute("x1", 0); l.setAttribute("x2", swatchW); l.setAttribute("y1", 10); l.setAttribute("y2", 10);
  l.setAttribute("stroke", color); l.setAttribute("stroke-width", 3);
  if (dash) l.setAttribute("stroke-dasharray", dash);
  s.appendChild(l);
  div.appendChild(s);
  const sp = document.createElement("span");
  sp.textContent = label;
  div.appendChild(sp);
  root.appendChild(div);
}
const legAcols = [262, 662, 262, 662];
const legArows = [38, 38, 75, 75];
powerNames.forEach((n, i) => legendItem(legAcols[i], legArows[i], 30, colors[i], null, n));
const legBrows = [682, 703, 724, 745];
inletNames.forEach((n, i) => legendItem(225, legBrows[i], 38, colors[i], null, n));
outletNames.forEach((n, i) => legendItem(618, legBrows[i], 37, colors[i], "6,3.5", n));

// panel letters
[["a", 12, 40], ["b", 6, 677]].forEach(([t, x, y]) => {
  const d = document.createElement("div");
  d.className = "lab"; d.textContent = t;
  d.style.left = x + "px"; d.style.top = y + "px";
  root.appendChild(d);
});

// watermark
const wm = document.createElement("div");
wm.className = "wm";
wm.textContent = "Journal Pre-proof";
root.appendChild(wm);
</script></body></html>
